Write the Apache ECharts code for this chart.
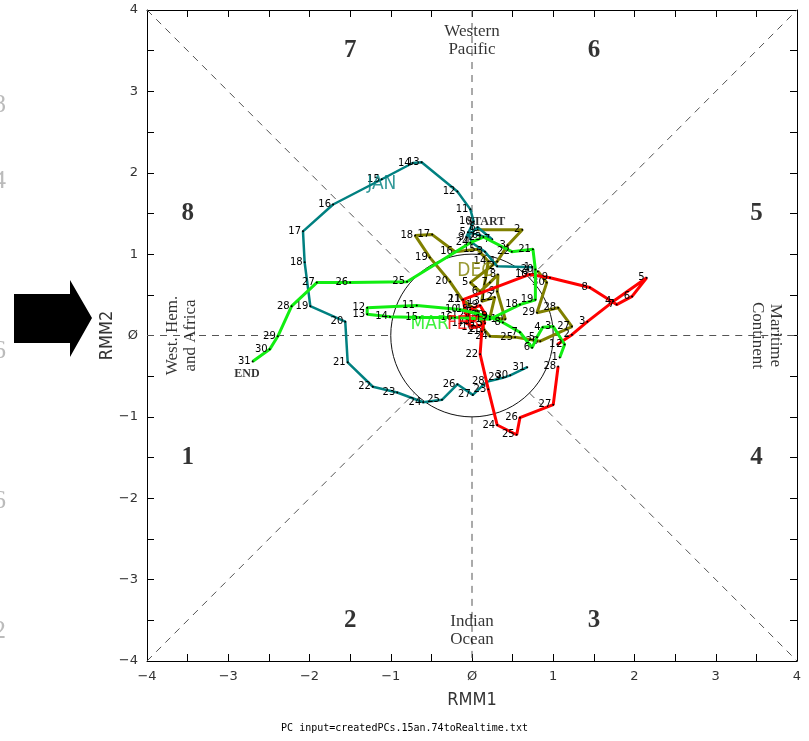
<!DOCTYPE html>
<html>
<head>
<meta charset="utf-8">
<title>RMM phase diagram</title>
<script src="https://cdn.jsdelivr.net/npm/echarts@6/dist/echarts.min.js"></script>
<style>
  html, body { margin: 0; padding: 0; background: #fff; }
  #main { width: 809px; height: 741px; }
</style>
</head>
<body>
<div id="main"></div>
<script>
// daily (RMM1, RMM2) positions, one array per month, day = index + 1
const decX = [0.07, 0.62, 0.44, 0.31, -0.02, 0.10, 0.22, 0.32, 0.31, 0.41, 0.22, 0.28, 0.12, 0.20, 0.07, -0.21,
  -0.49, -0.70, -0.52, -0.27, -0.12, 0.07, 0.15, 0.22, 0.53, 0.84, 1.23, 1.06, 0.80, 0.92, 0.81];
const decY = [1.30, 1.30, 1.11, 0.91, 0.65, 0.54, 0.65, 0.75, 0.54, 0.20, 0.22, 0.47, 0.42, 0.91, 1.06, 1.03,
  1.24, 1.23, 0.96, 0.66, 0.44, 0.30, 0.07, -0.01, -0.02, -0.07, 0.11, 0.34, 0.28, 0.65, 0.79];

const janX = [0.74, 0.31, 0.16, 0.00, -0.05, 0.10, 0.25, 0.07, -0.07, 0.02, -0.02, -0.18, -0.62, -0.73, -1.11, -1.71,
  -2.08, -2.06, -1.99, -1.56, -1.53, -1.22, -0.92, -0.60, -0.37, -0.18, 0.01, 0.18, 0.38, 0.47, 0.68];
const janY = [0.84, 0.85, 1.03, 1.14, 1.27, 1.23, 1.18, 1.33, 1.21, 1.40, 1.55, 1.77, 2.13, 2.12, 1.92, 1.61,
  1.28, 0.90, 0.36, 0.17, -0.33, -0.63, -0.70, -0.82, -0.79, -0.60, -0.73, -0.57, -0.52, -0.49, -0.39];

const febX = [1.05, 1.23, 1.42, 1.74, 2.15, 1.97, 1.78, 1.45, 0.96, 0.71, -0.11, -0.07, 0.00, 0.10, 0.16, 0.05,
  -0.07, -0.02, 0.10, 0.17, 0.12, 0.10, 0.20, 0.31, 0.55, 0.59, 1.00, 1.06];
const febY = [-0.11, 0.01, 0.17, 0.42, 0.71, 0.48, 0.38, 0.59, 0.71, 0.75, 0.44, 0.25, 0.17, 0.25, 0.15, 0.10,
  0.15, 0.32, 0.37, 0.25, 0.05, -0.23, -0.66, -1.10, -1.22, -1.01, -0.85, -0.38];

const marX = [1.08, 1.14, 1.00, 0.87, 0.80, 0.74, 0.59, 0.38, 0.22, -0.15, -0.68, -1.29, -1.29, -1.01, -0.64, -0.21,
  0.22, 0.59, 0.78, 0.78, 0.75, 0.49, 0.14, -0.02, -0.80, -1.50, -1.91, -2.22, -2.39, -2.49, -2.70];
const marY = [-0.27, -0.11, 0.11, 0.10, -0.02, -0.15, 0.04, 0.16, 0.23, 0.32, 0.37, 0.34, 0.26, 0.23, 0.22, 0.22,
  0.20, 0.38, 0.44, 0.81, 1.06, 1.03, 1.21, 1.14, 0.66, 0.65, 0.65, 0.36, -0.01, -0.17, -0.32];

const months = ['DEC', 'JAN', 'FEB', 'MAR'];
const monthColors = ['#808000', '#008080', '#ff0000', '#11ee11'];
const monthLabelX = [0.04, -1.11, -0.11, -0.52];
const monthLabelY = [0.79, 1.86, 0.14, 0.14];

// phase numbers and region names
const phaseNames = ['1', '2', '3', '4', '5', '6', '7', '8'];
const phaseX = [-3.5, -1.5, 1.5, 3.5, 3.5, 1.5, -1.5, -3.5];
const phaseY = [-1.5, -3.5, -3.5, -1.5, 1.5, 3.5, 3.5, 1.5];
const regionNames = ['Western\nPacific', 'Indian\nOcean', 'West. Hem.\nand Africa', 'Maritime\nContinent'];
const regionX = [0, 0, -3.58, 3.62];
const regionY = [3.63, -3.63, 0, 0];
const regionRotate = [0, 0, 90, -90];

const serif = '"Liberation Serif", "DejaVu Serif", serif';
const narrow = '"Liberation Sans Narrow", "DejaVu Sans Condensed", "Liberation Sans", sans-serif';

function monthData(xs, ys) {
  return xs.map((x, i) => [x, ys[i], i + 1]);
}

const chart = echarts.init(document.getElementById('main'));

// reference dashes: from the unit circle out to the frame
const d = Math.SQRT1_2;
const refSegs = [
  [[-4, -4], [-d, -d]], [[d, d], [4, 4]],
  [[-4, 4], [-d, d]], [[d, -d], [4, -4]],
  [[-4, 0], [-1, 0]], [[1, 0], [4, 0]],
  [[0, 4], [0, 1]], [[0, -1], [0, -4]]
];
const circle = [];
for (let a = 0; a <= 360; a += 5) {
  circle.push([Math.cos(a * Math.PI / 180), Math.sin(a * Math.PI / 180)]);
}

const series = [];
refSegs.forEach(s => {
  series.push({
    type: 'line', data: s, symbol: 'none', silent: true, z: 1,
    lineStyle: { color: '#555', width: 1, type: [7, 6] }
  });
});
series.push({
  type: 'line', data: circle, symbol: 'none', silent: true, z: 1,
  lineStyle: { color: '#111', width: 1 }
});

const allX = [decX, janX, febX, marX];
const allY = [decY, janY, febY, marY];
months.forEach((m, k) => {
  series.push({
    name: m,
    type: 'line',
    data: monthData(allX[k], allY[k]),
    symbol: 'circle',
    symbolSize: 2,
    showAllSymbol: true,
    z: 3 + k,
    itemStyle: { color: '#000' },
    lineStyle: { color: monthColors[k], width: k === 1 ? 2.5 : 3 },
    label: {
      show: true,
      position: 'left',
      distance: 1,
      formatter: p => p.value[2],
      color: '#000',
      fontSize: 10,
      fontFamily: '"DejaVu Sans", sans-serif'
    }
  });
});

// month names
series.push({
  type: 'scatter', symbolSize: 0, silent: true, z: 10,
  data: months.map((m, k) => ({
    value: [monthLabelX[k], monthLabelY[k]],
    label: { formatter: m, color: monthColors[k] }
  })),
  label: { show: true, position: 'inside', fontSize: 19, fontFamily: narrow }
});

// START / END
series.push({
  type: 'scatter', symbolSize: 0, silent: true, z: 10,
  data: [
    { value: [0.17, 1.40], label: { formatter: 'START' } },
    { value: [-2.77, -0.47], label: { formatter: 'END' } }
  ],
  label: { show: true, position: 'inside', color: '#000', fontSize: 12, fontWeight: 'bold', fontFamily: serif }
});

// phase numbers
series.push({
  type: 'scatter', symbolSize: 0, silent: true, z: 2,
  data: phaseNames.map((p, i) => ({ value: [phaseX[i], phaseY[i]], label: { formatter: p } })),
  label: { show: true, position: 'inside', color: '#000', fontSize: 25, fontWeight: 'bold', fontFamily: serif }
});

// region names
series.push({
  type: 'scatter', symbolSize: 0, silent: true, z: 2,
  data: regionNames.map((r, i) => ({
    value: [regionX[i], regionY[i]],
    label: { formatter: r, rotate: regionRotate[i] }
  })),
  label: { show: true, position: 'inside', color: '#000', fontSize: 17, lineHeight: 18, fontFamily: serif }
});

const tickFmt = v => (v === 0 ? 'Ø' : v < 0 ? '\u2212' + (-v) : String(v));
const baseAxis = {
  type: 'value', min: -4, max: 4, interval: 1,
  splitLine: { show: false },
  axisLine: { show: true, onZero: false, lineStyle: { color: '#000', width: 1 } },
  axisTick: { show: true, inside: true, length: 7, lineStyle: { color: '#000' } },
  minorTick: { show: true, splitNumber: 2, length: 7, lineStyle: { color: '#000' } },
  axisLabel: { show: false }
};
const shownLabel = {
  show: true, formatter: tickFmt, color: '#333', fontSize: 13,
  fontFamily: '"DejaVu Sans", sans-serif', showMinLabel: true, showMaxLabel: true
};

chart.setOption({
  animation: false,
  backgroundColor: '#fff',
  grid: { left: 147, right: 12, top: 10, bottom: 80, show: false },
  xAxis: [
    Object.assign({}, baseAxis, {
      position: 'bottom', name: 'RMM1', nameLocation: 'middle', nameGap: 30, nameMoveOverlap: false,
      nameTextStyle: { fontSize: 18, color: '#333', fontFamily: narrow },
      axisLabel: Object.assign({}, shownLabel, { margin: 9 })
    }),
    Object.assign({}, baseAxis, { position: 'top' })
  ],
  yAxis: [
    Object.assign({}, baseAxis, {
      position: 'left', name: 'RMM2', nameLocation: 'middle', nameGap: 31, nameMoveOverlap: false,
      nameTextStyle: { fontSize: 18, color: '#333', fontFamily: narrow },
      axisLabel: Object.assign({}, shownLabel, { margin: 9 })
    }),
    Object.assign({}, baseAxis, { position: 'right' })
  ],
  series: series,
  graphic: [
    {
      type: 'polygon',
      shape: { points: [[14, 294], [70, 294], [70, 280], [92, 318], [70, 357], [70, 343], [14, 343]] },
      style: { fill: '#000' }
    },
    {
      type: 'text', left: 'center', top: 723,
      style: {
        text: 'PC input=createdPCs.15an.74toRealtime.txt',
        fontSize: 10, fill: '#000', fontFamily: '"DejaVu Sans Mono", monospace'
      }
    },
    {
      type: 'group',
      children: ['8', '4', '6', '6', '2'].map((t, i) => ({
        type: 'text', x: -7, y: [92, 168, 338, 488, 618][i],
        style: { text: t, fontSize: 26, fill: '#bbb', fontFamily: serif }
      }))
    }
  ]
});
</script>
</body>
</html>
